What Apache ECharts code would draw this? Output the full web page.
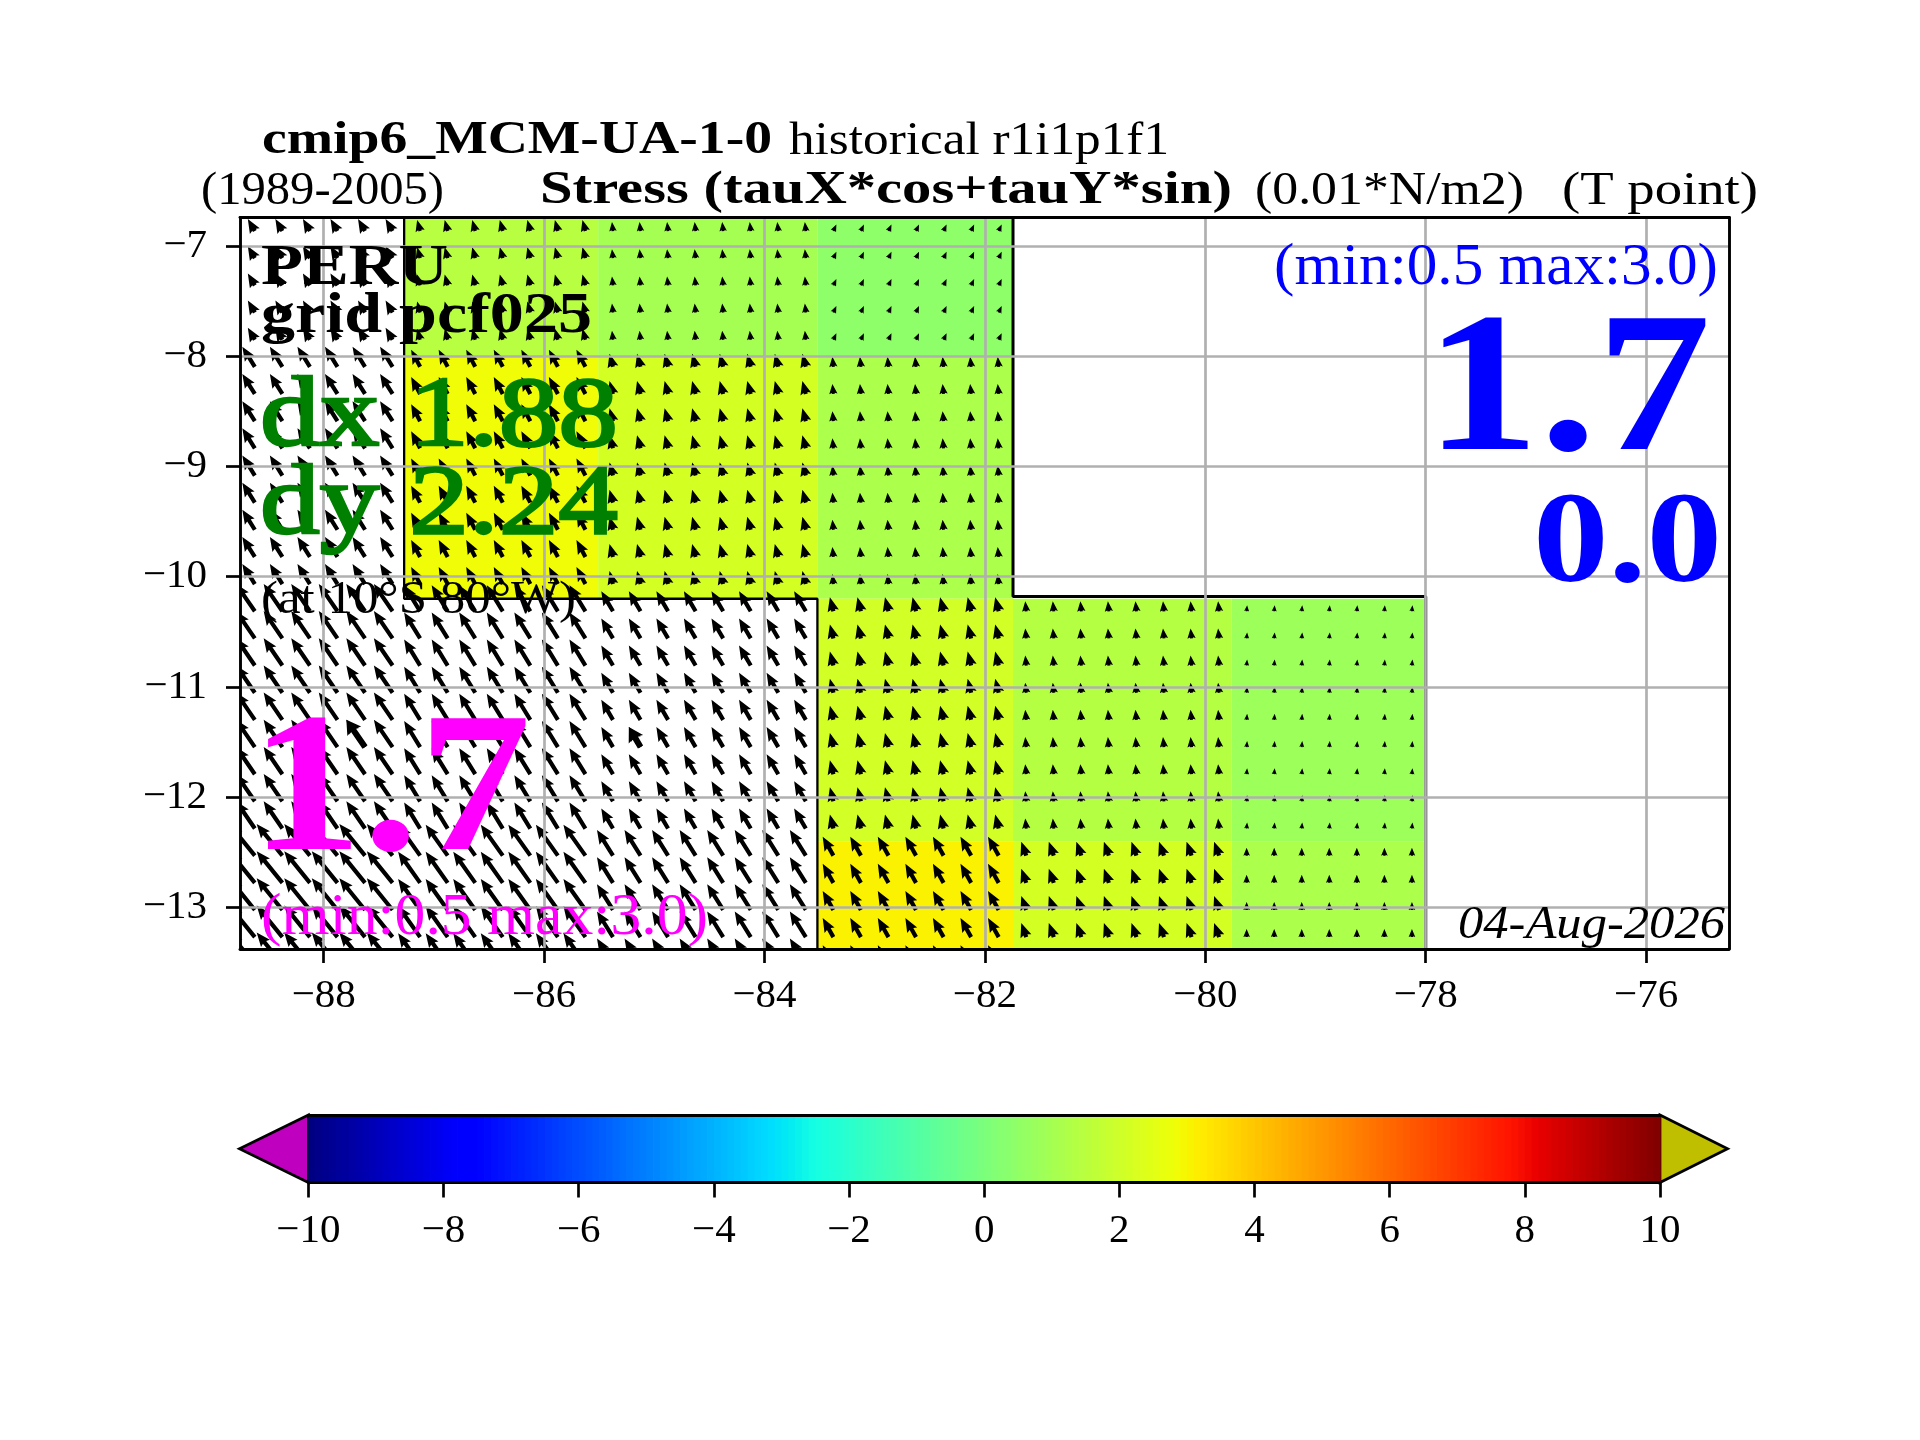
<!DOCTYPE html>
<html>
<head>
<meta charset="utf-8">
<title>Stress</title>
<script src="https://cdn.jsdelivr.net/npm/echarts@6/dist/echarts.min.js"></script>
<style>html,body{margin:0;padding:0;background:#fff}#c{width:1920px;height:1440px}</style>
</head>
<body>
<div id="c"></div>
<script>
// ---- data ----
const xTicks = [-88, -86, -84, -82, -80, -78, -76];
const yTicks = [-13, -12, -11, -10, -9, -8, -7];
const lonEdges = [-88.76, -87.27, -85.51, -83.52, -81.745, -79.76, -78.0];
const latEdges = [-6.741, -8.0, -10.2, -12.4, -13.378];
// rows: north to south; columns: west to east; null = land / masked
const cellValues = [
  [null, 1.45, 1.00, 0.45, null, null],
  [null, 2.85, 2.15, 1.18, null, null],
  [null, null, null, 2.10, 1.40, 0.80],
  [null, null, null, 3.07, 2.15, 1.18]
];
const arrowU = [
  [-0.70, -0.30, -0.10,  0.30, null, null],
  [-1.25, -0.90, -0.35, -0.10, null, null],
  [-1.87, -1.60, -1.17, -0.35, -0.10,  0.05],
  [-2.57, -2.20, -1.60, -1.07, -0.50,  0.00]
];
const arrowV = [
  [1.20, 1.10, 0.90, 0.65, null, null],
  [2.00, 1.70, 1.30, 1.00, null, null],
  [2.73, 2.60, 2.00, 1.40, 1.00, 0.60],
  [3.17, 3.10, 2.57, 1.90, 1.40, 0.80]
];
const arrowLons = [-88.625,-88.375,-88.125,-87.875,-87.625,-87.375,-87.125,-86.875,-86.625,-86.375,-86.125,
  -85.875,-85.625,-85.375,-85.125,-84.875,-84.625,-84.375,-84.125,-83.875,-83.625,-83.375,-83.125,-82.875,
  -82.625,-82.375,-82.125,-81.875,-81.625,-81.375,-81.125,-80.875,-80.625,-80.375,-80.125,-79.875,-79.625,
  -79.375,-79.125,-78.875,-78.625,-78.375,-78.125];
const arrowLats = [-6.864,-7.110,-7.357,-7.603,-7.850,-8.096,-8.342,-8.589,-8.835,-9.082,-9.328,-9.574,-9.821,
  -10.067,-10.314,-10.560,-10.806,-11.053,-11.299,-11.546,-11.792,-12.038,-12.285,-12.531,-12.778,-13.024,-13.270,-13.517];
const wideArrows = [[-87.625, -11.546, -1.87, 2.73], [-85.125, -11.546, -1.17, 2.00]];
const coastA = [[-87.27,-6.741],[-87.27,-10.2],[-83.52,-10.2],[-83.52,-13.378]];
const coastB = [[-81.745,-6.741],[-81.745,-10.18],[-78.0,-10.18],[-78.0,-13.378]];

// ---- jet colour map, range -10..10 ----
function seg(stops, t){
  for(let i=1;i<stops.length;i++){
    if(t<=stops[i][0]){
      const a=stops[i-1],b=stops[i];
      return a[1]+(b[1]-a[1])*(t-a[0])/(b[0]-a[0]);
    }
  }
  return stops[stops.length-1][1];
}
const jetR=[[0,0],[.35,0],[.66,1],[.89,1],[1,.5]];
const jetG=[[0,0],[.125,0],[.375,1],[.64,1],[.91,0],[1,0]];
const jetB=[[0,.5],[.11,1],[.34,1],[.65,0],[1,0]];
function jet(v){
  const t=Math.max(0,Math.min(1,(v+10)/20));
  const c=s=>Math.round(255*seg(s,t));
  return `rgb(${c(jetR)},${c(jetG)},${c(jetB)})`;
}

// ---- series data ----
const cellData=[];
cellValues.forEach((row,r)=>row.forEach((v,c)=>{
  if(v!==null) cellData.push([lonEdges[c],lonEdges[c+1],latEdges[r],latEdges[r+1],v]);
}));
function bin(edges,x,desc){
  for(let i=0;i<edges.length-1;i++){
    if(desc? (x>edges[i+1]) : (x<edges[i+1])) return i;
  }
  return edges.length-2;
}
const arrowData=[];
arrowLats.forEach(lat=>arrowLons.forEach(lon=>{
  const r=bin(latEdges,lat,true), c=bin(lonEdges,lon,false);
  const u=arrowU[r][c], v=arrowV[r][c];
  if(u!==null) arrowData.push([lon,lat,u,v]);
}));
const barStep=0.1, barData=[];
for(let i=0;i<200;i++){const a=-10+i*barStep; barData.push([a,a+barStep]);}

// ---- drawing helpers ----
const PX_PER_UNIT=10;
function arrowRender(widthScale){
  return function(params,api){
    const p=api.coord([api.value(0),api.value(1)]);
    const dx=api.value(2)*PX_PER_UNIT, dy=-api.value(3)*PX_PER_UNIT;
    const L=Math.hypot(dx,dy);
    const hl=14, hal=12.5, hw=11.5*widthScale, sw=4.2*widthScale;
    const s=Math.min(1,L/hl);
    const shape=[[0,sw/2*s],[L-hal*s,sw/2*s],[L-hl*s,hw/2*s],[L,0],[L-hl*s,-hw/2*s],[L-hal*s,-sw/2*s],[0,-sw/2*s]];
    const ca=dx/L, sa=dy/L;
    const pts=shape.map(q=>[p[0]+q[0]*ca-q[1]*sa,p[1]+q[0]*sa+q[1]*ca]);
    return {type:'polygon',shape:{points:pts},style:{fill:'#000',stroke:null}};
  };
}
function cellRender(params,api){
  const a=api.coord([api.value(0),api.value(2)]);
  const b=api.coord([api.value(1),api.value(3)]);
  return {type:'rect',shape:{x:a[0],y:a[1],width:b[0]-a[0],height:b[1]-a[1]},
    style:{fill:jet(api.value(4)),stroke:null}};
}
function barRender(params,api){
  const a=api.coord([api.value(0),1]);
  const b=api.coord([api.value(1),0]);
  return {type:'rect',shape:{x:a[0],y:a[1],width:b[0]-a[0]+0.8,height:b[1]-a[1]},
    style:{fill:jet((api.value(0)+api.value(1))/2),stroke:null}};
}
function triRender(tipX,baseX,fill){
  return function(params,api){
    const pts=[api.coord([baseX,1]),api.coord([tipX,0.5]),api.coord([baseX,0])];
    return {type:'polygon',shape:{points:pts},style:{fill:fill,stroke:'#000',lineWidth:2.7}};
  };
}
const minus=v=>(v<0?'\u2212'+Math.abs(v):String(v));

// ---- text ----
const SERIF='"Liberation Serif","DejaVu Serif",serif';
const mctx=document.createElement('canvas').getContext('2d');
function txt(str,x0,x1,base,size,fill,weight,italic,strokeW){
  const w=weight||'normal', st=italic?'italic':'normal';
  const font=`${st} ${w} ${size}px ${SERIF}`;
  mctx.font=font;
  const actual=mctx.measureText(str).width;
  const style={text:str,x:0,y:0,fill:fill||'#000',font:font,textAlign:'left',textVerticalAlign:'middle',verticalAlign:'middle'};
  if(strokeW){style.stroke=fill;style.lineWidth=strokeW;}
  return {type:'text',z:100,x:x0,y:base-0.27*size,scaleX:(x1-x0)/actual,silent:true,style:style};
}
const texts=[
  txt('cmip6_MCM-UA-1-0',262,772,154,46,'#000','bold'),
  txt('historical r1i1p1f1',789,1169,154,46),
  txt('(1989-2005)',201,444,204,46),
  txt('Stress (tauX*cos+tauY*sin)',540,1232,204,46,'#000','bold'),
  txt('(0.01*N/m2)',1255,1524,204,46),
  txt('(T point)',1562,1758,204,46),
  txt('PERU',261,448,285,58,'#000','bold'),
  txt('grid pcf025',261,592,332.7,58,'#000','bold'),
  txt('dx 1.88',260,618,445.7,100,'#008000','normal',false,2.5),
  txt('dy 2.24',260,618,534,100,'#008000','normal',false,2.5),
  txt('(at 10\u00b0S 80\u00b0W)',261,576,613,46),
  txt('1.7',250,531,851.7,200,'#ff00ff','bold'),
  txt('(min:0.5 max:3.0)',261,708,934,60,'#ff00ff'),
  txt('(min:0.5 max:3.0)',1274,1718,284,60,'#0000ff'),
  txt('1.7',1425,1711,451.7,200,'#0000ff','bold'),
  txt('0.0',1533,1722,583,130,'#0000ff','bold'),
  txt('04-Aug-2026',1458,1725,938,46,'#000','normal',true)
];

// ---- chart ----
const GRID_LINE={show:true,lineStyle:{color:'#b0b0b0',width:2.7,type:'solid'}};
const AX_LINE={show:true,onZero:false,lineStyle:{color:'#000',width:2.9}};
const LABEL={color:'#000',fontFamily:SERIF,fontSize:41};
const chart=echarts.init(document.getElementById('c'),null,{renderer:'canvas',width:1920,height:1440});
chart.setOption({
  animation:false,
  backgroundColor:'#fff',
  grid:[
    {left:240,top:217.5,width:1489,height:731.5},
    {left:308.4,top:1115,width:1351.6,height:67.5}
  ],
  xAxis:[
    {gridIndex:0,type:'value',min:-88.7595,max:-75.248,position:'bottom',z:5,
      axisLine:AX_LINE,splitLine:GRID_LINE,
      axisTick:{show:true,length:14,customValues:xTicks,lineStyle:{color:'#000',width:2.7}},
      axisLabel:Object.assign({customValues:xTicks,margin:27,formatter:minus},LABEL)},
    {gridIndex:0,type:'value',min:-88.7595,max:-75.248,position:'top',z:5,
      axisLine:AX_LINE,splitLine:{show:false},axisTick:{show:false},axisLabel:{show:false}},
    {gridIndex:1,type:'value',min:-10,max:10,interval:2,position:'bottom',z:5,
      axisLine:{show:true,onZero:false,lineStyle:{color:'#000',width:3}},splitLine:{show:false},
      axisTick:{show:true,length:15,lineStyle:{color:'#000',width:2.7}},
      axisLabel:Object.assign({margin:28,formatter:minus,showMinLabel:true,showMaxLabel:true},LABEL)},
    {gridIndex:1,type:'value',min:-10,max:10,position:'top',z:5,
      axisLine:{show:true,onZero:false,lineStyle:{color:'#000',width:3}},splitLine:{show:false},axisTick:{show:false},axisLabel:{show:false}}
  ],
  yAxis:[
    {gridIndex:0,type:'value',min:-13.378,max:-6.741,position:'left',z:5,
      axisLine:AX_LINE,splitLine:GRID_LINE,
      axisTick:{show:true,length:14,customValues:yTicks,lineStyle:{color:'#000',width:2.7}},
      axisLabel:Object.assign({customValues:yTicks,margin:33,formatter:minus},LABEL)},
    {gridIndex:0,type:'value',min:-13.378,max:-6.741,position:'right',z:5,
      axisLine:AX_LINE,splitLine:{show:false},axisTick:{show:false},axisLabel:{show:false}},
    {gridIndex:1,type:'value',min:0,max:1,show:false}
  ],
  series:[
    {type:'custom',name:'cells',xAxisIndex:0,yAxisIndex:0,clip:true,z:1,silent:true,renderItem:cellRender,data:cellData},
    {type:'custom',name:'arrows',xAxisIndex:0,yAxisIndex:0,clip:true,z:2,silent:true,renderItem:arrowRender(1),data:arrowData},
    {type:'custom',name:'wideArrows',xAxisIndex:0,yAxisIndex:0,clip:true,z:2,silent:true,renderItem:arrowRender(1.45),data:wideArrows},
    {type:'line',name:'coastA',xAxisIndex:0,yAxisIndex:0,z:3,silent:true,symbol:'none',data:coastA,lineStyle:{color:'#000',width:2.3}},
    {type:'line',name:'coastB',xAxisIndex:0,yAxisIndex:0,z:3,silent:true,symbol:'none',data:coastB,lineStyle:{color:'#000',width:3}},
    {type:'custom',name:'colorbar',xAxisIndex:2,yAxisIndex:2,z:2,silent:true,renderItem:barRender,data:barData},
    {type:'custom',name:'under',xAxisIndex:2,yAxisIndex:2,z:1,silent:true,renderItem:triRender(-11.02,-10,'#bf00bf'),data:[[0]]},
    {type:'custom',name:'over',xAxisIndex:2,yAxisIndex:2,z:1,silent:true,renderItem:triRender(11,10,'#bfbf00'),data:[[0]]}
  ],
  graphic:{elements:texts}
});
</script>
</body>
</html>
